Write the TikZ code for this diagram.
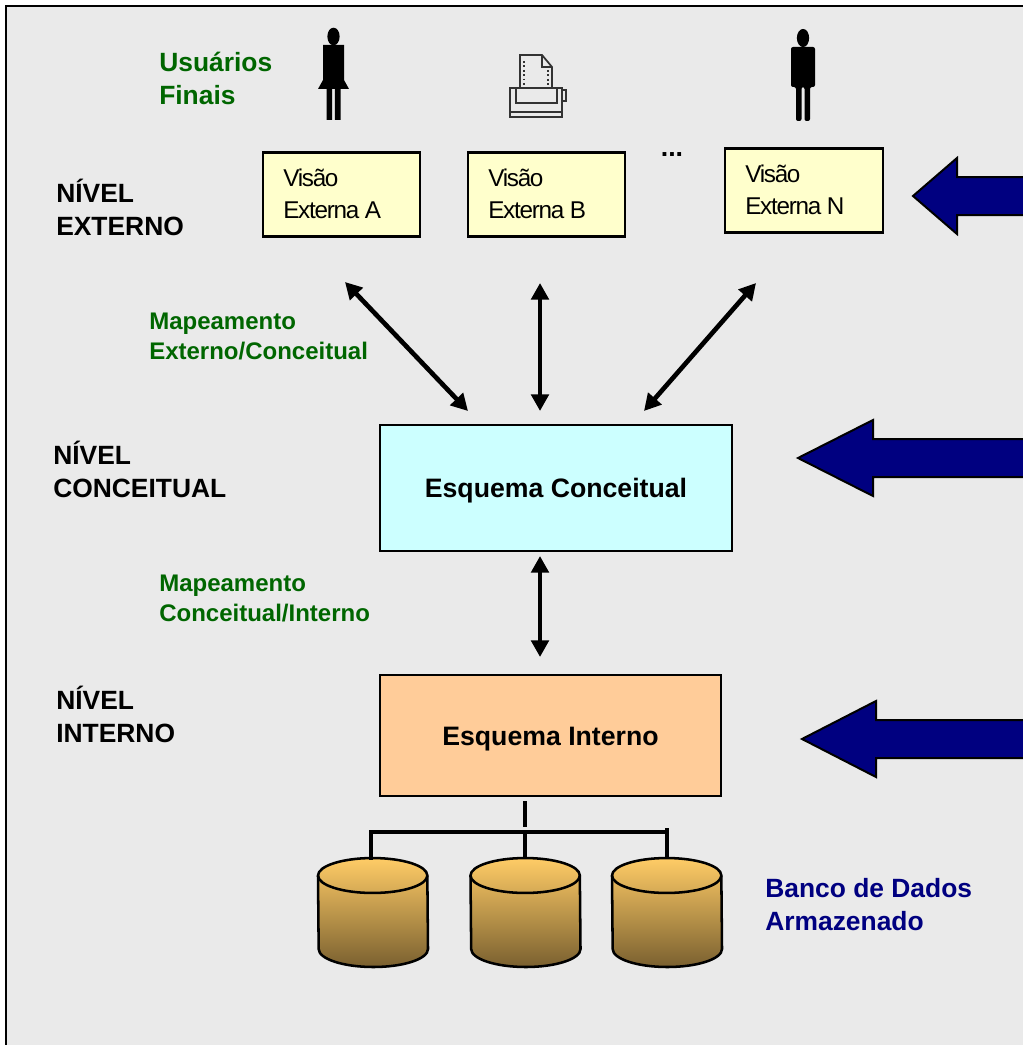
\documentclass[tikz,border=0pt]{standalone}
\usepackage{fontspec}
\setmainfont{Liberation Sans}
\usetikzlibrary{arrows.meta}
\definecolor{pagegray}{HTML}{EAEAEA}
\definecolor{viewyellow}{HTML}{FFFFCC}
\definecolor{concyan}{HTML}{CCFFFF}
\definecolor{intorange}{HTML}{FFCC99}
\definecolor{labgreen}{HTML}{006600}
\definecolor{navyblue}{HTML}{000080}
\definecolor{cyltop}{HTML}{FFCC66}
\definecolor{cylbot}{HTML}{7A6030}
\newcommand{\dbcyl}[1]{%
  \draw[line width=1.9pt,top color=cyltop,bottom color=cylbot]
    (#1,875.5) arc[start angle=180,end angle=0,x radius=41pt,y radius=13.1pt]
    -- (#1+110,949) arc[start angle=0,end angle=-180,x radius=41pt,y radius=13.5pt] -- cycle;
  \draw[line width=1.9pt] (#1,875.5) arc[start angle=180,end angle=360,x radius=41pt,y radius=13.1pt];
}
\tikzset{
  viewbox/.style={draw=black,line width=1.7pt,fill=viewyellow,minimum width=118pt,minimum height=63pt,inner sep=0pt},
  viewtext/.style={anchor=west,inner sep=0pt,align=left,font=\fontsize{18.2pt}{24pt}\selectfont\addfontfeature{LetterSpace=-5.2}},
  levellab/.style={anchor=west,inner sep=0pt,align=left,font=\fontsize{19.8pt}{24.75pt}\selectfont\bfseries},
  greenlab/.style={anchor=west,inner sep=0pt,align=left,text=labgreen,font=\fontsize{18pt}{22.5pt}\selectfont\bfseries},
  biglab/.style={levellab,text=labgreen},
  bluelab/.style={levellab,text=navyblue},
  schemabox/.style={draw=black,line width=1.7pt,inner sep=0pt,text height=18.4pt,text depth=4pt,font=\fontsize{20pt}{24pt}\selectfont\bfseries},
  dbl/.style={line width=3.5pt,{Triangle[length=12.5pt,width=13pt]}-{Triangle[length=12.5pt,width=13pt]}},
  busline/.style={line width=2.3pt},
  bluearrow/.style={draw=black,line width=1.5pt,fill=navyblue},
  figure/.style={fill=black,draw=none}
}
\begin{document}
\begin{tikzpicture}[x=0.75pt,y=-0.75pt]
\useasboundingbox (0,0) rectangle (1023,1045);
\fill[white] (0,0) rectangle (1023,1045);
\draw[line width=1.5pt,fill=pagegray] (5.5,6) rectangle (1040,1060);

% figures
\fill[figure] (333.5,36.5) ellipse[x radius=4.6pt,y radius=6.6pt];
\fill[figure] (323,45) -- (344,45) -- (344,80) -- (349,89) -- (340.5,89) -- (340.5,120) -- (334.8,120) -- (334.8,89) -- (332.2,89) -- (332.2,120) -- (326.5,120) -- (326.5,89) -- (318,89) -- (323,80) -- cycle;
\fill[figure] (803,38) ellipse[x radius=4.6pt,y radius=6.8pt];
\fill[figure,rounded corners=1.5pt] (791,47) -- (815,47) -- (815,87) -- (810,87) -- (810,121) -- (804.5,121) -- (804.5,87) -- (801.5,87) -- (801.5,121) -- (796,121) -- (796,87) -- (791,87) -- cycle;

% printer
\begin{scope}[line width=1.3pt,draw=black!80]
\draw (520,88) -- (520,55) -- (542,55) -- (552,67) -- (552,88);
\draw (542,55) -- (542,67) -- (552,67);
\draw[dotted] (524,61) -- (524,88);
\draw[dotted] (548,70) -- (548,88);
\draw (510,88) rectangle (562,117);
\draw (516,88) rectangle (557,103);
\draw (510,112) -- (562,112);
\draw (562,90) -- (566,90) -- (566,101) -- (562,101);
\end{scope}

% boxes
\node[viewbox] (va) at (341.5,194.5) {};
\node[viewbox] (vb) at (546.5,194.5) {};
\node[viewbox] (vn) at (804,190.5) {};
\node[schemabox,fill=concyan,minimum width=264pt,minimum height=94.5pt] (ec) at (556,488) {Esquema Conceitual};
\node[schemabox,fill=intorange,minimum width=255.75pt,minimum height=90.75pt] (ei) at (550.5,735.5) {Esquema Interno};

\node[viewtext] (ta) at (283,194) {Visão\\Externa A};
\node[viewtext] (tb) at (488,194) {Visão\\Externa B};
\node[viewtext] (tn) at (745,190) {Visão\\Externa N};

% labels
\node[biglab] (uf) at (159,78) {Usuários\\Finais};
\node[levellab] (ne) at (56,207.5) {NÍVEL\\EXTERNO};
\node[levellab] (nc) at (53,469) {NÍVEL\\CONCEITUAL};
\node[levellab] (ni) at (56,714) {NÍVEL\\INTERNO};
\node[greenlab] (me) at (149,336) {Mapeamento\\Externo/Conceitual};
\node[greenlab] (mc) at (159,598) {Mapeamento\\Conceitual/Interno};
\node[bluelab] (bd) at (765,905) {Banco de Dados\\Armazenado};
\node[inner sep=0pt,font=\fontsize{20pt}{24pt}\selectfont\bfseries] (dots) at (672,155) {...};

% double arrows
\coordinate (a1s) at (345,282); \coordinate (a1e) at (468,411);
\coordinate (a2s) at (540,283); \coordinate (a2e) at (540,411);
\coordinate (a3s) at (756,283); \coordinate (a3e) at (644,411);
\coordinate (a4s) at (540,556); \coordinate (a4e) at (540,657);
\draw[dbl] (a1s) -- (a1e);
\draw[dbl] (a2s) -- (a2e);
\draw[dbl] (a3s) -- (a3e);
\draw[dbl] (a4s) -- (a4e);

% blue arrows
\draw[bluearrow] (1040,177) -- (957,177) -- (957,158) -- (913,196) -- (957,234) -- (957,215) -- (1040,215);
\draw[bluearrow] (1040,439) -- (873,439) -- (873,420) -- (798,458) -- (873,496) -- (873,477) -- (1040,477);
\draw[bluearrow] (1040,720) -- (876,720) -- (876,701) -- (802,739) -- (876,777) -- (876,758) -- (1040,758);

% cylinders
\dbcyl{318}
\dbcyl{470.5}
\dbcyl{612}
\coordinate (c1) at (371,858);
\coordinate (c2) at (525,858);
\coordinate (c3) at (667,858);
\coordinate (stemt) at (525,801);
\coordinate (stemb) at (525,827);
\coordinate (busl) at (371,832);
\coordinate (busm) at (525,832);
\coordinate (busr) at (667,832);
\coordinate (c3t) at (667,828);
\draw[busline] (stemt) -- (stemb);
\draw[busline] (busl) -- (busr);
\draw[busline,line cap=rect] (busl) -- (c1);
\draw[busline] (busm) -- (c2);
\draw[busline] (c3t) -- (c3);
\end{tikzpicture}
\end{document}
